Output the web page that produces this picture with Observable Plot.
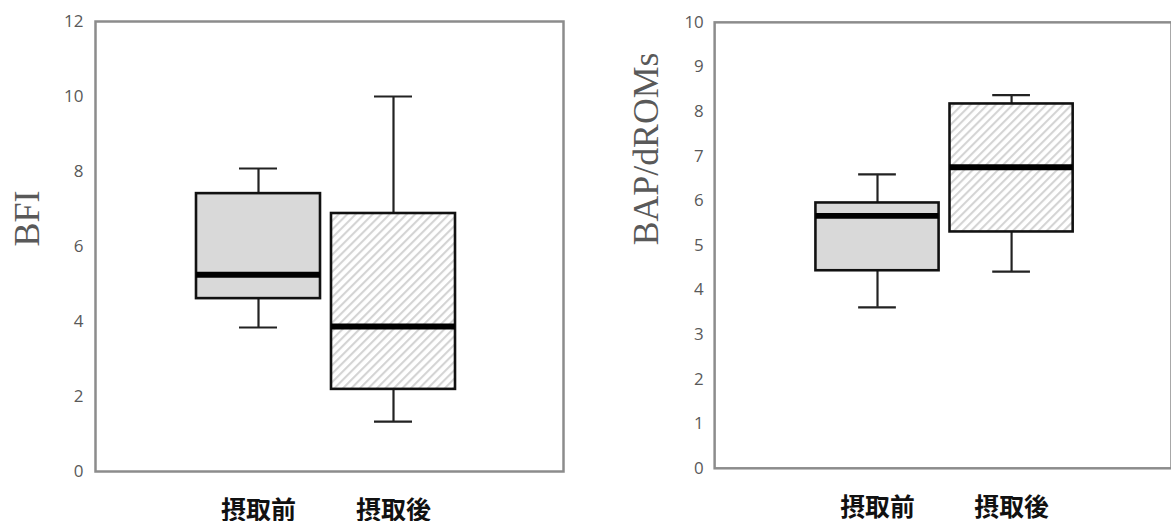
<!DOCTYPE html>
<html>
<head>
<meta charset="utf-8">
<script src="https://cdn.jsdelivr.net/npm/d3@7"></script>
<script src="https://cdn.jsdelivr.net/npm/@observablehq/plot@0.6"></script>
<style>
  html, body { margin: 0; padding: 0; background: #fff; overflow: hidden; }
  #wrap { position: relative; width: 1171px; height: 521px; overflow: hidden; }
  #left { position: absolute; left: 0; top: 0; }
  #right { position: absolute; left: 585px; top: 0; }
</style>
</head>
<body>
<svg width="0" height="0" style="position:absolute">
  <defs>
    <pattern id="hatch" patternUnits="userSpaceOnUse" width="6" height="6" patternTransform="rotate(45)">
      <rect width="6" height="6" fill="#ffffff"></rect>
      <line x1="1" y1="0" x2="1" y2="6" stroke="#d4d4d4" stroke-width="2.2"></line>
    </pattern>
  </defs>
</svg>
<div id="wrap">
  <div id="left"></div>
  <div id="right"></div>
</div>
<script>
// ---- data ----
const categories = ["摂取前", "摂取後"];

const bfiMin    = [3.84, 1.33];
const bfiQ1     = [4.61, 2.19];
const bfiMedian = [5.25, 3.87];
const bfiQ3     = [7.41, 6.88];
const bfiMax    = [8.08, 10.0];
const bfiTicks  = [0, 2, 4, 6, 8, 10, 12];

const bapMin    = [3.61, 4.41];
const bapQ1     = [4.43, 5.30];
const bapMedian = [5.66, 6.75];
const bapQ3     = [5.95, 8.17];
const bapMax    = [6.59, 8.37];
const bapTicks  = [0, 1, 2, 3, 4, 5, 6, 7, 8, 9, 10];

function rows(mn, q1, md, q3, mx) {
  return categories.map((c, i) => ({cat: c, min: mn[i], q1: q1[i], median: md[i], q3: q3[i], max: mx[i]}));
}

const fillFor = d => d.cat === categories[0] ? "#d9d9d9" : "url(#hatch)";

function panel({data, width, marginLeft, marginRight, marginTop, xRange, yDomain, ticks, label, labelDx, tickPadding}) {
  return Plot.plot({
    width, height: 521,
    marginLeft, marginRight, marginTop, marginBottom: 50,
    style: {fontFamily: "'Open Sans', 'Noto Sans', sans-serif", fontSize: "17px", color: "#595959", background: "transparent", overflow: "visible"},
    x: {domain: categories, range: xRange, paddingInner: 0.08, paddingOuter: 0},
    y: {domain: yDomain},
    marks: [
      Plot.frame({stroke: "#8c8c8c", strokeWidth: 2.5}),
      Plot.axisY(ticks, {tickSize: 0, tickPadding, fill: "#595959", fontSize: 17, label: null}),
      Plot.axisX({tickSize: 0, tickPadding: 30, fontSize: 25, fontWeight: "bold",
                  fontFamily: "'Noto Sans CJK JP', sans-serif", fill: "#111", label: null}),
      Plot.ruleX(data, {x: "cat", y1: "min", y2: "max", stroke: "#222", strokeWidth: 2.2}),
      Plot.barY(data, {x: "cat", y1: "q1", y2: "q3", fill: fillFor, stroke: "#111", strokeWidth: 2.6}),
      Plot.tickY(data, {x: "cat", y: "min", stroke: "#222", strokeWidth: 2.2, insetLeft: 43, insetRight: 43}),
      Plot.tickY(data, {x: "cat", y: "max", stroke: "#222", strokeWidth: 2.2, insetLeft: 43, insetRight: 43}),
      Plot.tickY(data, {x: "cat", y: "median", stroke: "#000", strokeWidth: 6}),
      Plot.text([label], {frameAnchor: "left", rotate: -90, dx: labelDx, fontSize: 36,
                          fontFamily: "'Liberation Serif', 'DejaVu Serif', serif", fill: "#595959"})
    ]
  });
}

document.getElementById("left").append(panel({
  data: rows(bfiMin, bfiQ1, bfiMedian, bfiQ3, bfiMax),
  width: 585, marginLeft: 95, marginRight: 22, marginTop: 21,
  xRange: [196, 456], yDomain: [0, 12], ticks: bfiTicks,
  label: "BFI", labelDx: -68, tickPadding: 12
}));

document.getElementById("right").append(panel({
  data: rows(bapMin, bapQ1, bapMedian, bapQ3, bapMax),
  width: 590, marginLeft: 130, marginRight: 0, marginTop: 22,
  xRange: [231, 492], yDomain: [0, 10], ticks: bapTicks,
  label: "BAP/dROMs", labelDx: -69, tickPadding: 11
}));
</script>
</body>
</html>
